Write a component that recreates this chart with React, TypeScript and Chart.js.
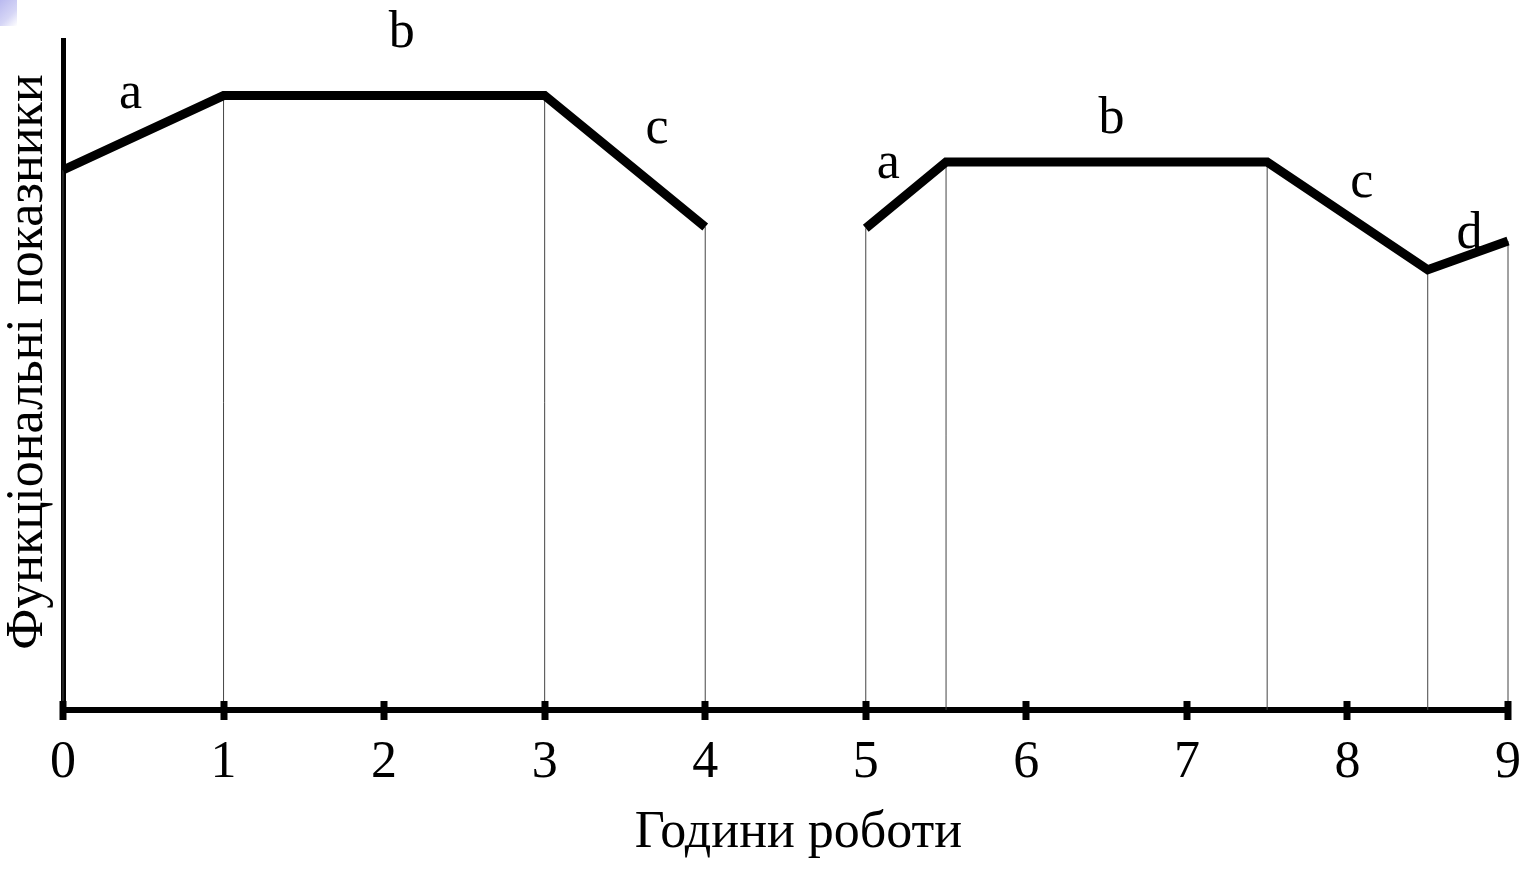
import React, { useEffect, useRef } from "react";
import { Chart, registerables } from "chart.js";

Chart.register(...registerables);

// ---- data ----
const hoursFirst = [0, 1, 3, 4];
const valuesFirst = [80.6, 91.7, 91.7, 72.1];
const hoursSecond = [5, 5.5, 7.5, 8.5, 9];
const valuesSecond = [71.9, 81.8, 81.8, 65.7, 70.0];
const tickHours = [0, 1, 2, 3, 4, 5, 6, 7, 8, 9];
const segmentLabels = ["a", "b", "c", "a", "b", "c", "d"];
const segmentLabelX = [0.42, 2.11, 3.7, 5.14, 6.53, 8.09, 8.76];
const segmentLabelY = [89.9, 99.0, 84.6, 79.4, 86.1, 76.6, 69.0];
const xTitle = "\u00A0\u00A0Години роботи";
const yTitle = "\u00A0\u00A0Функціональні показники";

const FONT = '"Liberation Serif", "Times New Roman", serif';
const FS = 52;

export default function App() {
  const canvasRef = useRef<HTMLCanvasElement | null>(null);

  useEffect(() => {
    const canvas = canvasRef.current;
    if (!canvas) return;

    const mainLine: any[] = [];
    hoursFirst.forEach((h, i) => mainLine.push({ x: h, y: valuesFirst[i] }));
    mainLine.push({ x: (hoursFirst[hoursFirst.length - 1] + hoursSecond[0]) / 2, y: null });
    hoursSecond.forEach((h, i) => mainLine.push({ x: h, y: valuesSecond[i] }));

    const drops: any[] = [];
    const addDrops = (hs: number[], vs: number[]) =>
      hs.forEach((h, i) => {
        drops.push({ x: h, y: 0 });
        drops.push({ x: h, y: vs[i] });
        drops.push({ x: h, y: null });
      });
    addDrops(hoursFirst, valuesFirst);
    addDrops(hoursSecond, valuesSecond);

    const overlay = {
      id: "overlay",
      afterDraw(chart: any) {
        const { ctx, scales } = chart;
        const xs = scales.x;
        const ys = scales.y;
        ctx.save();
        ctx.fillStyle = "#000";
        const axisY = ys.getPixelForValue(0);
        tickHours.forEach((t) => {
          const px = xs.getPixelForValue(t);
          ctx.fillRect(Math.round(px) - 3.5, axisY - 9, 7, 19);
        });
        ctx.font = `${FS}px ${FONT}`;
        ctx.textAlign = "center";
        ctx.textBaseline = "alphabetic";
        segmentLabels.forEach((l, i) => {
          ctx.fillText(l, xs.getPixelForValue(segmentLabelX[i]), ys.getPixelForValue(segmentLabelY[i]));
        });
        ctx.restore();
      },
    };

    const chart = new Chart(canvas, {
      type: "line",
      data: {
        datasets: [
          {
            data: drops,
            borderColor: "#444",
            borderWidth: 1,
            pointRadius: 0,
            spanGaps: false,
            clip: false as any,
            order: 2,
          },
          {
            data: mainLine,
            borderColor: "#000",
            borderWidth: 9,
            borderJoinStyle: "miter",
            borderCapStyle: "butt",
            pointRadius: 0,
            spanGaps: false,
            clip: false as any,
            order: 1,
          },
        ],
      },
      options: {
        responsive: false,
        animation: false,
        events: [],
        layout: { padding: { top: 40, right: 24, left: 0, bottom: 0 } },
        plugins: { legend: { display: false }, tooltip: { enabled: false } },
        scales: {
          x: {
            type: "linear",
            min: 0,
            max: 9,
            afterBuildTicks: (scale: any) => {
              scale.ticks = tickHours.map((v) => ({ value: v }));
            },
            afterFit: (scale: any) => {
              scale.height = 159;
              scale.paddingRight = 0;
              scale.paddingLeft = 0;
            },
            ticks: {
              color: "#000",
              font: { family: FONT, size: FS },
              padding: 22,
              maxRotation: 0,
              autoSkip: false,
            },
            grid: { display: true, drawOnChartArea: false, drawTicks: false, color: "#000" },
            border: { display: true, color: "#000", width: 6 },
            title: {
              display: true,
              text: xTitle,
              color: "#000",
              font: { family: FONT, size: FS, lineHeight: 1 },
              padding: { top: 0, bottom: 10 },
            },
          },
          y: {
            type: "linear",
            min: 0,
            max: 100,
            afterFit: (scale: any) => {
              scale.width = 63;
            },
            ticks: { display: false },
            grid: { display: true, drawOnChartArea: false, drawTicks: false, color: "#000" },
            border: { display: true, color: "#000", width: 5 },
            title: {
              display: true,
              text: yTitle,
              color: "#000",
              font: { family: FONT, size: FS, lineHeight: 1 },
              padding: { top: 2, bottom: 0 },
            },
          },
        },
      },
      plugins: [overlay],
    });

    return () => chart.destroy();
  }, []);

  return (
    <div style={{ position: "fixed", left: 0, top: 0, width: 1532, height: 869, background: "#fff" }}>
      <canvas ref={canvasRef} width={1532} height={869} style={{ display: "block" }} />
      <div
        style={{
          position: "absolute",
          left: 0,
          top: 0,
          width: 17,
          height: 26,
          background: "linear-gradient(135deg, #b9b9ef 0%, #d6d6f6 60%, #ffffff 100%)",
        }}
      />
    </div>
  );
}
